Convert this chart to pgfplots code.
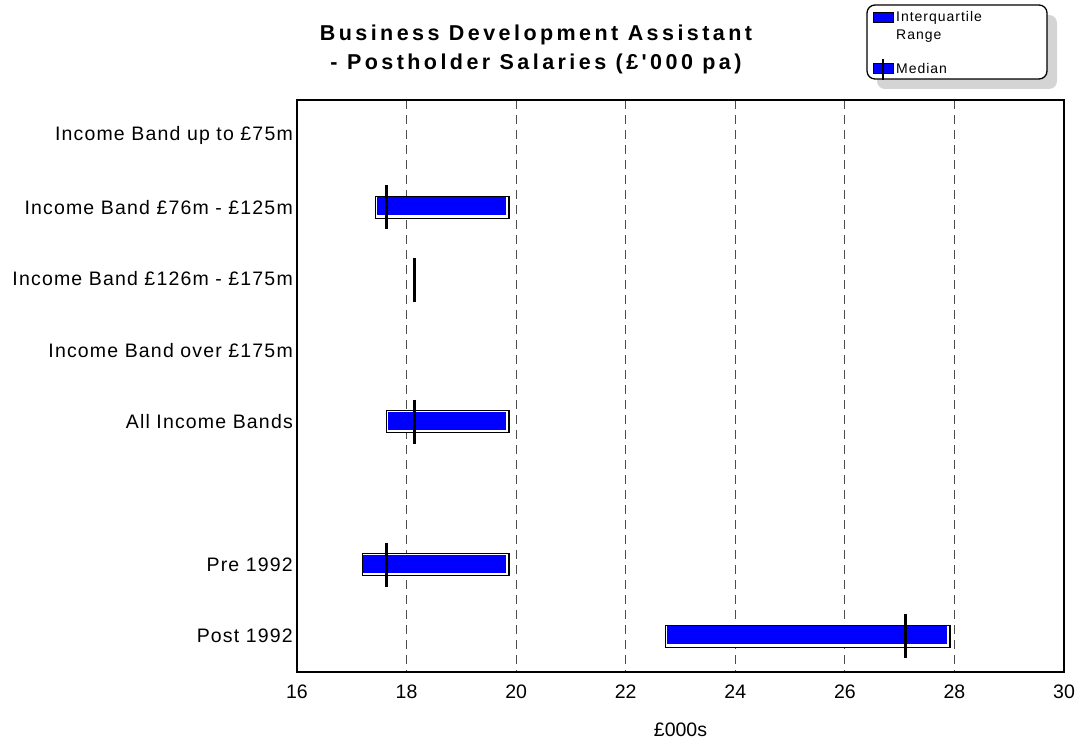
\documentclass[border=0pt]{standalone}
\usepackage{fontspec}
\usepackage{pgfplots}
\pgfplotsset{compat=1.18}
\setmainfont{Liberation Sans}
\newfontfamily\lab[LetterSpace=6]{Liberation Sans}
\newfontfamily\ttl[LetterSpace=16]{Liberation Sans}
\newfontfamily\leg[LetterSpace=7]{Liberation Sans}
\newfontfamily\tck{Liberation Sans}
\newcommand\labf{\lab\fontsize{19.5pt}{23pt}\selectfont}
\newcommand\tckf{\tck\fontsize{19.5pt}{23pt}\selectfont}
\definecolor{barblue}{RGB}{0,0,255}
\begin{document}
\begin{tikzpicture}[x=1pt,y=1pt]
\path (0,0) rectangle (1081,744);
% legend shadow and box
\fill[black!17] (877,655) [rounded corners=8pt] rectangle (1057,729);
\draw[line width=1.3pt, fill=white, rounded corners=8pt] (867,665) rectangle (1047,739);
\draw[line width=1pt, fill=barblue] (873,721) rectangle (893,731);
\draw[line width=1pt, fill=barblue] (873,670) rectangle (893,680);
\draw[line width=2pt] (883,664) -- (883,685);
\node[anchor=base west, inner sep=0pt, font=\leg\fontsize{14pt}{16pt}\selectfont] at (896,722.3) {Interquartile};
\node[anchor=base west, inner sep=0pt, font=\leg\fontsize{14pt}{16pt}\selectfont] at (896,704.3) {Range};
\node[anchor=base west, inner sep=0pt, font=\leg\fontsize{14pt}{16pt}\selectfont] at (896,670.3) {Median};
% title
\node[anchor=base, inner sep=0pt, font=\ttl\bfseries\fontsize{21.5pt}{24pt}\selectfont] at (536,703.2) {Business Development Assistant};
\node[anchor=base, inner sep=0pt, font=\ttl\bfseries\fontsize{21.5pt}{24pt}\selectfont] at (536,674.2) {- Postholder Salaries (£'000 pa)};
\begin{axis}[
  at={(297pt,72pt)}, anchor=south west,
  scale only axis, width=767pt, height=572pt,
  xmin=16, xmax=30, ymin=-0.5, ymax=7.5, y dir=reverse,
  xtick={16,18,...,30},
  ytick={0,1,2,3,4,6,7},
  yticklabels={Income Band up to £75m, Income Band £76m - £125m, Income Band £126m - £175m, Income Band over £175m, All Income Bands, Pre 1992\hspace{9pt}, Post 1992\hspace{9pt}},
  xmajorgrids,
  grid style={black!70, line width=0.9pt, dash pattern=on 9pt off 6pt},
  major tick length=0pt,
  axis line style={line width=1.4pt},
  /pgf/number format/assume math mode=true,
  xticklabel style={font=\tckf, inner sep=0pt, anchor=north, yshift=-13pt},
  yticklabel style={font=\labf, inner sep=0pt, anchor=east, xshift=-4pt},
  xlabel={£000s},
  xlabel style={font=\tckf, at={(axis description cs:0.5,0)}, anchor=center, yshift=-58pt},
  clip=false,
]
% Income Band 76m - 125m
\addplot[draw=black, line width=1.2pt, fill=white] coordinates {(17.44,0.846) (19.87,0.846) (19.87,1.154) (17.44,1.154)} -- cycle;
\addplot[draw=none, fill=barblue] coordinates {(17.46,0.86) (19.82,0.86) (19.82,1.11) (17.46,1.11)} -- cycle;
\addplot[black, line width=3pt] coordinates {(17.64,0.69) (17.64,1.31)};
% Income Band 126m - 175m (median only)
\addplot[black, line width=3pt] coordinates {(18.15,1.71) (18.15,2.33)};
% All income bands
\addplot[draw=black, line width=1.2pt, fill=white] coordinates {(17.64,3.846) (19.87,3.846) (19.87,4.154) (17.64,4.154)} -- cycle;
\addplot[draw=none, fill=barblue] coordinates {(17.66,3.86) (19.82,3.86) (19.82,4.11) (17.66,4.11)} -- cycle;
\addplot[black, line width=3pt] coordinates {(18.15,3.69) (18.15,4.31)};
% Pre 1992
\addplot[draw=black, line width=1.2pt, fill=white] coordinates {(17.19,5.846) (19.87,5.846) (19.87,6.154) (17.19,6.154)} -- cycle;
\addplot[draw=none, fill=barblue] coordinates {(17.21,5.86) (19.82,5.86) (19.82,6.11) (17.21,6.11)} -- cycle;
\addplot[black, line width=3pt] coordinates {(17.64,5.69) (17.64,6.31)};
% Post 1992
\addplot[draw=black, line width=1.2pt, fill=white] coordinates {(22.73,6.846) (27.92,6.846) (27.92,7.154) (22.73,7.154)} -- cycle;
\addplot[draw=none, fill=barblue] coordinates {(22.75,6.86) (27.87,6.86) (27.87,7.11) (22.75,7.11)} -- cycle;
\addplot[black, line width=3pt] coordinates {(27.11,6.69) (27.11,7.31)};
\end{axis}
\end{tikzpicture}
\end{document}
